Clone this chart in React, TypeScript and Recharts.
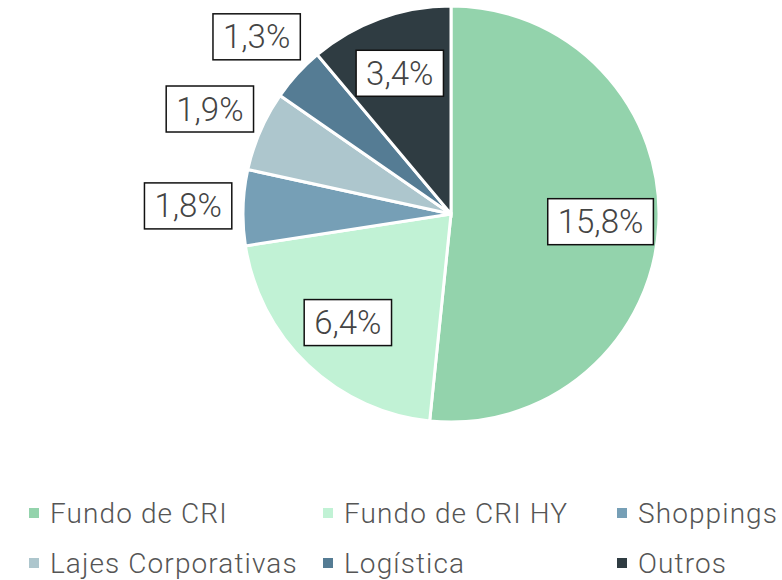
import React, { useLayoutEffect, useRef, useState } from "react";
import { PieChart, Pie, Cell, Legend } from "recharts";

const categories = [
  "Fundo de CRI",
  "Fundo de CRI HY",
  "Shoppings",
  "Lajes Corporativas",
  "Logística",
  "Outros",
];
const values = [15.8, 6.4, 1.8, 1.9, 1.3, 3.4];
const labels = ["15,8%", "6,4%", "1,8%", "1,9%", "1,3%", "3,4%"];
const colors = ["#93D3AC", "#C1F2D5", "#769FB6", "#ADC6CD", "#557C94", "#2F3C42"];

const data = categories.map((name, i) => ({ name, value: values[i], label: labels[i] }));

const FONT = "Roboto, 'DejaVu Sans', sans-serif";
const RAD = Math.PI / 180;

function BoxLabel({ x, y, text }: { x: number; y: number; text: string }) {
  const ref = useRef<SVGTextElement>(null);
  const [w, setW] = useState(80);
  useLayoutEffect(() => {
    if (ref.current) setW(ref.current.getBBox().width);
  }, [text]);
  const bw = w + 20;
  const bh = 46;
  return (
    <g>
      <rect x={x - bw / 2} y={y - bh / 2} width={bw} height={bh} fill="#fff" stroke="#111" strokeWidth={1.5} />
      <text
        ref={ref}
        x={x}
        y={y}
        textAnchor="middle"
        dominantBaseline="central"
        fill="#444"
        fontFamily={FONT}
        fontWeight={300}
        fontSize={33}
      >
        {text}
      </text>
    </g>
  );
}

// etiquetas pequenas ficam fora da pizza, as grandes dentro
const renderLabel = (p: any) => {
  const { cx, cy, midAngle, outerRadius, percent, index } = p;
  const r = percent < 0.08 ? outerRadius + 55 : outerRadius * 0.72;
  const x = cx + r * Math.cos(-midAngle * RAD);
  const y = cy + r * Math.sin(-midAngle * RAD);
  return <BoxLabel key={index} x={x} y={y} text={labels[index]} />;
};

const renderLegend = () => (
  <div
    style={{
      display: "grid",
      gridTemplateColumns: "294px 294px 180px",
      rowGap: 22,
      paddingLeft: 29,
      fontFamily: FONT,
      fontWeight: 300,
      fontSize: 28,
      letterSpacing: 1.1,
      color: "#555",
    }}
  >
    {categories.map((c, i) => (
      <div key={c} style={{ display: "flex", alignItems: "center", whiteSpace: "nowrap", height: 28 }}>
        <span style={{ width: 10, height: 10, background: colors[i], marginRight: 11, display: "inline-block" }} />
        {c}
      </div>
    ))}
  </div>
);

export default function App() {
  return (
    <div style={{ position: "absolute", left: 0, top: 0, background: "#fff" }}>
      <PieChart width={782} height={580} margin={{ top: 0, right: 0, bottom: 0, left: 0 }}>
        <Pie
          data={data}
          dataKey="value"
          nameKey="name"
          cx={451}
          cy={214}
          outerRadius={208}
          startAngle={90}
          endAngle={-270}
          stroke="#fff"
          strokeWidth={3}
          label={renderLabel}
          labelLine={false}
          isAnimationActive={false}
        >
          {data.map((d, i) => (
            <Cell key={d.name} fill={colors[i]} />
          ))}
        </Pie>
        <Legend
          content={renderLegend}
          wrapperStyle={{ position: "absolute", left: 0, top: 499, width: 782 }}
        />
      </PieChart>
    </div>
  );
}
